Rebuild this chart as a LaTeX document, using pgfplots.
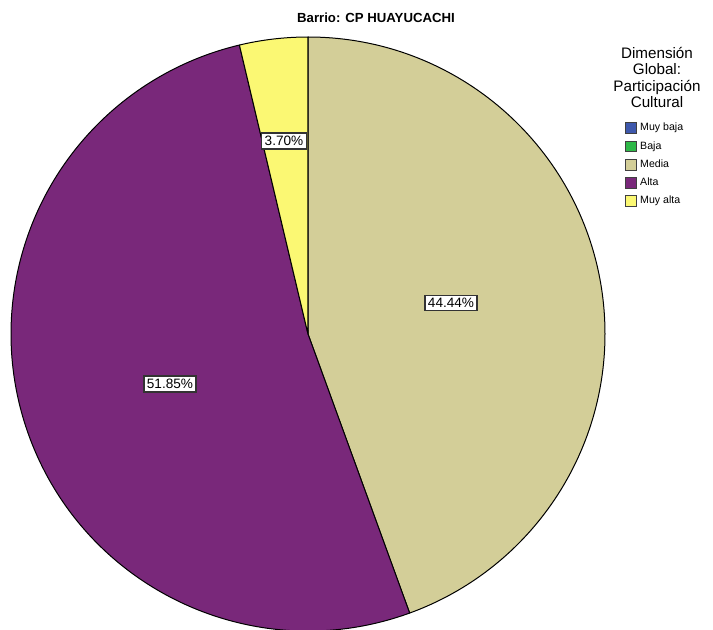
\documentclass[border=0pt]{standalone}
\usepackage{fontspec}
\setmainfont{Liberation Sans}
\usepackage{pgfplots}
\usepackage{pgfplotstable}
\pgfplotsset{compat=1.18}

\definecolor{muybaja}{HTML}{3E58AC}
\definecolor{baja}{HTML}{2EB848}
\definecolor{media}{HTML}{D3CE98}
\definecolor{alta}{HTML}{79287A}
\definecolor{muyalta}{HTML}{FBF873}

% percentages, clockwise from 12 o'clock
\pgfplotstableread{
cat     value
Media   44.44
Alta    51.85
MuyAlta 3.70
}\piedata

\begin{document}
\begin{tikzpicture}
\pgfplotstablegetelem{0}{value}\of\piedata \let\vMedia\pgfplotsretval
\pgfplotstablegetelem{1}{value}\of\piedata \let\vAlta\pgfplotsretval
\pgfplotstablegetelem{2}{value}\of\piedata \let\vMuyAlta\pgfplotsretval
\pgfmathsetmacro\aA{90}
\pgfmathsetmacro\aB{\aA-3.6*\vMedia}
\pgfmathsetmacro\aC{\aB-3.6*\vAlta}
\pgfmathsetmacro\aD{\aC-3.6*\vMuyAlta}
\def\R{148.5pt}
\begin{axis}[
    x=0.5pt, y=0.5pt,
    xmin=0, xmax=713, ymin=0, ymax=630,
    y dir=reverse,
    hide axis, clip=false,
    /pgf/number format/assume math mode=true,
    legend cell align=left,
    legend image code/.code={\draw[#1, draw=black!75, line width=0.4pt] (0pt,-2.7pt) rectangle (5.5pt,2.7pt);},
    legend style={at={(axis cs:625,122)}, anchor=north west, draw=none, fill=none,
        font=\fontsize{5.3}{6}\selectfont, inner sep=0pt, row sep=3.3pt,
        nodes={inner sep=0pt, text height=4pt, text depth=1.2pt},
        /tikz/every odd column/.append style={column sep=1.5pt}},
]
\coordinate (tl) at (axis cs:0,0);
\coordinate (br) at (axis cs:713,630);

\addlegendimage{fill=muybaja}\addlegendentry{Muy baja}
\addlegendimage{fill=baja}\addlegendentry{Baja}
\addlegendimage{fill=media}\addlegendentry{Media}
\addlegendimage{fill=alta}\addlegendentry{Alta}
\addlegendimage{fill=muyalta}\addlegendentry{Muy alta}

\fill[media, draw=black, line width=0.5pt, line join=round]
    (axis cs:308,334) -- ++(\aA:\R) arc[start angle=\aA, end angle=\aB, radius=\R] -- cycle;
\fill[alta, draw=black, line width=0.5pt, line join=round]
    (axis cs:308,334) -- ++(\aB:\R) arc[start angle=\aB, end angle=\aC, radius=\R] -- cycle;
\fill[muyalta, draw=black, line width=0.5pt, line join=round]
    (axis cs:308,334) -- ++(\aC:\R) arc[start angle=\aC, end angle=\aD, radius=\R] -- cycle;

\tikzset{plabel/.style={fill=white, draw=black!80, line width=0.7pt, inner sep=1.5pt,
    font=\fontsize{6.8}{7}\selectfont}}
\node[plabel] at (axis cs:451,303) {\pgfmathprintnumber[fixed,fixed zerofill,precision=2]{\vMedia}\%};
\node[plabel] at (axis cs:170,384) {\pgfmathprintnumber[fixed,fixed zerofill,precision=2]{\vAlta}\%};
\node[plabel] at (axis cs:284,141) {\pgfmathprintnumber[fixed,fixed zerofill,precision=2]{\vMuyAlta}\%};

\node[font=\bfseries\fontsize{6.6}{7}\selectfont] at (axis cs:376,18) {Barrio: CP HUAYUCACHI};
\node[align=center, anchor=north, font=\fontsize{7.6}{8.15}\selectfont, inner sep=0pt]
    at (axis cs:657,47) {Dimensión\\Global:\\Participación\\Cultural};
\end{axis}
\pgfresetboundingbox
\path[use as bounding box] (tl) rectangle (br);
\end{tikzpicture}
\end{document}
